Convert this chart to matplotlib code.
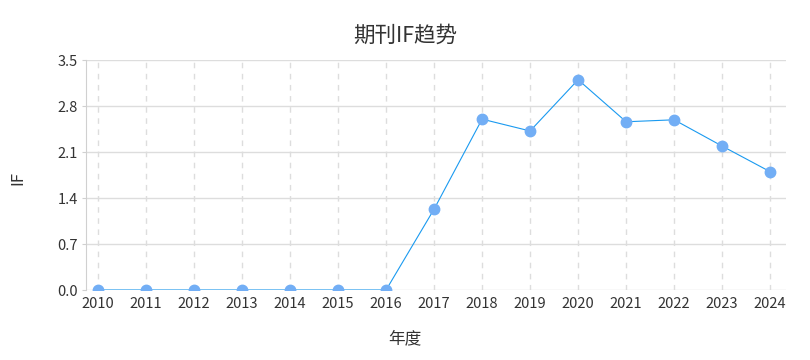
import matplotlib
matplotlib.use("Agg")
from matplotlib import pyplot as plt

plt.rcParams['font.family'] = ['Noto Sans CJK SC', 'DejaVu Sans']

# data
years = [2010, 2011, 2012, 2013, 2014, 2015, 2016, 2017, 2018, 2019, 2020, 2021, 2022, 2023, 2024]
impact = [0, 0, 0, 0, 0, 0, 0, 1.23, 2.60, 2.42, 3.20, 2.56, 2.59, 2.19, 1.80]
yticks = [0.0, 0.7, 1.4, 2.1, 2.8, 3.5]

fig = plt.figure(figsize=(8.1, 3.6), dpi=100)
ax = fig.add_axes([86 / 810, 70 / 360, 700 / 810, 230 / 360])

ax.plot(years, impact, color='#1a9af0', linewidth=0.8, zorder=3)
ax.plot(years, impact, 'o', color='#72aef5', markersize=7.5, zorder=4, linestyle='none')

ax.set_xlim(2009.75, 2024.33)
ax.set_ylim(0, 3.5)
ax.set_xticks(years)
ax.set_yticks(yticks)
ax.set_yticklabels(["%.1f" % v for v in yticks])
ax.tick_params(axis='x', length=0, labelsize=10.5, colors='#333333', pad=5)
ax.tick_params(axis='y', length=3, color='#d0d0d0', labelsize=10.5, colors='#333333', pad=3)

ax.grid(axis='y', color='#dddddd', linewidth=1)
ax.grid(axis='x', color='#dddddd', linewidth=1, linestyle=(0, (4, 4)))
ax.set_axisbelow(True)
for s in ['top', 'right', 'bottom']:
    ax.spines[s].set_visible(False)
ax.spines['left'].set_color('#d0d0d0')

fig.text(405 / 810, 1 - 339 / 360, "年度", fontsize=12, color='#333333', ha='center', va='center')
fig.text(18 / 810, 1 - 178 / 360, "IF", fontsize=12, color='#333333', ha='center', va='center', rotation=90)
fig.suptitle("期刊IF趋势", fontsize=15.5, color='#333333', y=0.93)

fig.savefig("out.png", dpi=100)
